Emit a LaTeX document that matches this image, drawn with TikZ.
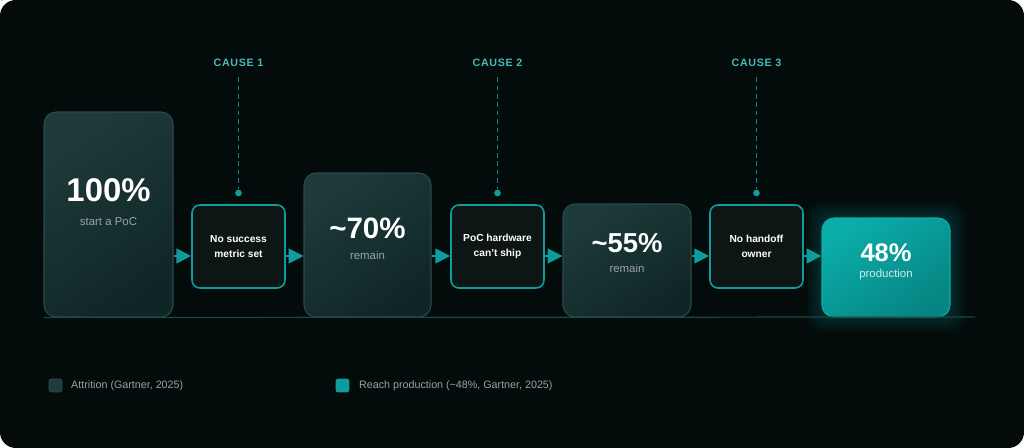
\documentclass[tikz,border=0pt]{standalone}
\usepackage{fontspec}
\setmainfont{Liberation Sans}
\newfontfamily\causefont[LetterSpace=6]{Liberation Sans}
\usetikzlibrary{arrows.meta,calc,positioning}
\definecolor{panel}{HTML}{030B0B}
\definecolor{griddot}{HTML}{0E1D1D}
\definecolor{stagetop}{HTML}{1E3A3A}
\definecolor{stagebot}{HTML}{0F2626}
\definecolor{stageedge}{HTML}{2A4B4B}
\definecolor{causefill}{HTML}{0D1515}
\definecolor{accent}{HTML}{0E9C9C}
\definecolor{causetext}{HTML}{48BABA}
\definecolor{causedash}{HTML}{0F8787}
\definecolor{subtext}{HTML}{98A4A4}
\definecolor{prodtop}{HTML}{0BADA9}
\definecolor{prodbot}{HTML}{068583}
\definecolor{floorline}{HTML}{1D4646}
\tikzset{
	stage/.style={draw=stageedge,line width=0.6pt,rounded corners=6.8pt,top color=stagetop,bottom color=stagebot,shading angle=35,anchor=center},
	prod/.style={draw=prodtop,line width=0.6pt,rounded corners=6.8pt,top color=prodtop,bottom color=prodbot,shading angle=35,anchor=center},
	cause/.style={draw=accent,line width=0.9pt,rounded corners=4.5pt,fill=causefill,minimum width=1.86cm,minimum height=1.66cm,align=center,text=white,inner sep=0pt,font=\fontsize{5.8}{8.5}\selectfont\bfseries,anchor=center},
	bignum/.style={text=white,inner sep=0pt,font=\bfseries\fontsize{#1}{#1}\selectfont},
	subnum/.style={text=subtext,inner sep=0pt,font=\fontsize{6.5}{7}\selectfont},
	causelabel/.style={text=causetext,inner sep=0pt,font=\causefont\bfseries\fontsize{6.1}{7}\selectfont},
	causeline/.style={draw=causedash,line width=1pt,dash pattern=on 2.6pt off 2.2pt},
	causedot/.style={circle,fill=accent,inner sep=0pt,minimum size=3.8pt},
	flow/.style={draw=accent,line width=1.1pt,-{Triangle[length=8.5pt,width=8.5pt]}},
	legendbox/.style={rounded corners=1.2pt,minimum size=7.3pt,inner sep=0pt,line width=0.5pt},
	legendtext/.style={text=subtext,inner sep=0pt,font=\fontsize{6.1}{7}\selectfont},
}
\begin{document}
\begin{tikzpicture}[x=0.02cm,y=-0.02cm]
\useasboundingbox (0,0) rectangle (1024,448);
\fill[white] (0,0) rectangle (1024,448);
\fill[panel,rounded corners=9pt] (0,0) rectangle (1024,448);
% dot grid
\foreach \x in {2,20,...,1024}
	\foreach \y in {0,18,...,448}
		\fill[griddot] (\x,\y) circle (0.7);
% glow behind the last stage
\coordinate (p48) at (886,267.5);
\foreach \g in {2,4,...,16}
	\fill[accent,opacity=0.03,rounded corners=8pt] ($(p48)+(-64-\g,-49.5-\g)$) rectangle ($(p48)+(64+\g,49.5+\g)$);
% stages
\node (b100) at (108.5,214.5) [stage,minimum width=2.58cm,minimum height=4.1cm] {};
\node (b70) at (367.5,245) [stage,minimum width=2.54cm,minimum height=2.88cm] {};
\node (b55) at (627,260.5) [stage,minimum width=2.56cm,minimum height=2.26cm] {};
\node (b48) at (p48) [prod,minimum width=2.56cm,minimum height=1.98cm] {};
\node (n100) at (108.5,190) [bignum=18.7] {100\%};
\node (s100) at (108.5,222) [subnum] {start a PoC};
\node (n70) at (367.5,228) [bignum=16.8] {\textasciitilde70\%};
\node (s70) at (367.5,255.5) [subnum] {remain};
\node (n55) at (627,243) [bignum=15.6] {\textasciitilde55\%};
\node (s55) at (627,268.5) [subnum] {remain};
\node (n48) at (886,253) [bignum=14.5] {48\%};
\node (s48) at (886,275) [subnum,text=white!80!prodtop] {production};
% causes
\node (c1) at (238.5,246.5) [cause] {No success\\metric set};
\node (c2) at (497.5,246.5) [cause] {PoC hardware\\can't ship};
\node (c3) at (756.5,246.5) [cause] {No handoff\\owner};
\node (cl1) at (238.5,63) [causelabel] {CAUSE 1};
\node (cl2) at (497.5,63) [causelabel] {CAUSE 2};
\node (cl3) at (756.5,63) [causelabel] {CAUSE 3};
\node (d1) at (238.5,193) [causedot] {};
\node (d2) at (497.5,193) [causedot] {};
\node (d3) at (756.5,193) [causedot] {};
\draw[causeline] (cl1.south) ++(0,10) -- (d1);
\draw[causeline] (cl2.south) ++(0,10) -- (d2);
\draw[causeline] (cl3.south) ++(0,10) -- (d3);
% flow arrows
\coordinate (F) at (0,256);
\draw[flow] (b100.east|-F) -- (c1.west|-F);
\draw[flow] (c1.east|-F) -- (b70.west|-F);
\draw[flow] (b70.east|-F) -- (c2.west|-F);
\draw[flow] (c2.east|-F) -- (b55.west|-F);
\draw[flow] (b55.east|-F) -- (c3.west|-F);
\draw[flow] (c3.east|-F) -- (b48.west|-F);
% base line
\coordinate (E) at (975,317);
\draw[floorline,line width=0.7pt] (b100.south west) -- (E);
% legend
\node (k1) at (55.5,385.5) [legendbox,fill=stagetop,draw=stageedge] {};
\node (t1) [legendtext,right=0.17cm of k1] {Attrition (Gartner, 2025)};
\node (k2) at (342.5,385.5) [legendbox,fill=accent,draw=accent] {};
\node (t2) [legendtext,right=0.19cm of k2] {Reach production (\textasciitilde48\%, Gartner, 2025)};
\end{tikzpicture}
\end{document}
